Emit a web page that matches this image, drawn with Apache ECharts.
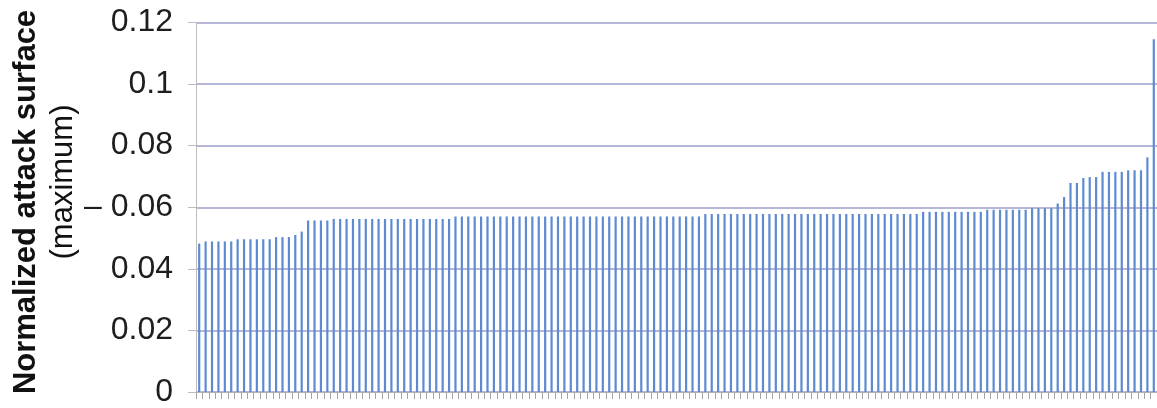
<!DOCTYPE html>
<html>
<head>
<meta charset="utf-8">
<script src="https://cdn.jsdelivr.net/npm/echarts@6/dist/echarts.min.js"></script>
<style>
  html, body { margin: 0; padding: 0; background: #ffffff; }
  #chart { width: 1157px; height: 408px; }
</style>
</head>
<body>
<div id="chart"></div>
<script>
// Normalized attack surface (maximum), one bar per configuration, sorted ascending
const categories = [];
for (let i = 1; i <= 150; i++) categories.push(String(i));

const attackSurface = [
  0.0482, 0.0489, 0.0489, 0.0489, 0.0489, 0.0489, 0.0496, 0.0496, 0.0496, 0.0496,
  0.0496, 0.0496, 0.0503, 0.0503, 0.0503, 0.0510, 0.0521, 0.0557, 0.0557, 0.0557,
  0.0557, 0.0562, 0.0562, 0.0562, 0.0562, 0.0562, 0.0562, 0.0562, 0.0562, 0.0562,
  0.0562, 0.0562, 0.0562, 0.0562, 0.0562, 0.0562, 0.0562, 0.0562, 0.0562, 0.0562,
  0.0570, 0.0570, 0.0570, 0.0570, 0.0570, 0.0570, 0.0570, 0.0570, 0.0570, 0.0570,
  0.0570, 0.0570, 0.0570, 0.0570, 0.0570, 0.0570, 0.0570, 0.0570, 0.0570, 0.0570,
  0.0570, 0.0570, 0.0570, 0.0570, 0.0570, 0.0570, 0.0570, 0.0570, 0.0570, 0.0570,
  0.0570, 0.0570, 0.0570, 0.0570, 0.0570, 0.0570, 0.0570, 0.0570, 0.0570, 0.0578,
  0.0578, 0.0578, 0.0578, 0.0578, 0.0578, 0.0578, 0.0578, 0.0578, 0.0578, 0.0578,
  0.0578, 0.0578, 0.0578, 0.0578, 0.0578, 0.0578, 0.0578, 0.0578, 0.0578, 0.0578,
  0.0578, 0.0578, 0.0578, 0.0578, 0.0578, 0.0578, 0.0578, 0.0578, 0.0578, 0.0578,
  0.0578, 0.0578, 0.0578, 0.0585, 0.0585, 0.0585, 0.0585, 0.0585, 0.0585, 0.0585,
  0.0585, 0.0585, 0.0585, 0.0592, 0.0592, 0.0592, 0.0592, 0.0592, 0.0592, 0.0592,
  0.0597, 0.0597, 0.0597, 0.0597, 0.0612, 0.0633, 0.0679, 0.0679, 0.0695, 0.0698,
  0.0698, 0.0715, 0.0715, 0.0715, 0.0715, 0.0720, 0.0720, 0.0720, 0.0762, 0.1146
];

const yTickLabels = ['0', '0.02', '0.04', '0.06', '0.08', '0.1', '0.12'];

const chart = echarts.init(document.getElementById('chart'), null, { renderer: 'canvas' });

chart.setOption({
  animation: false,
  backgroundColor: '#ffffff',
  grid: { left: 196, right: 0, top: 22.5, bottom: 11, containLabel: false },
  xAxis: {
    type: 'category',
    data: categories,
    boundaryGap: true,
    axisLine: { show: true, lineStyle: { color: '#b4b4b4', width: 1 } },
    axisTick: { show: true, interval: 0, length: 7, lineStyle: { color: '#a6a6a6', width: 1 } },
    axisLabel: { show: false },
    splitLine: { show: false }
  },
  yAxis: {
    type: 'value',
    min: 0,
    max: 0.12,
    interval: 0.02,
    axisLine: { show: true, lineStyle: { color: '#bdbdbd', width: 1 } },
    axisTick: { show: true, length: 8, lineStyle: { color: '#bdbdbd', width: 1 } },
    axisLabel: {
      margin: 23,
      fontFamily: 'Liberation Sans',
      fontSize: 32,
      color: '#1e1e1e',
      formatter: function (v) {
        const label = yTickLabels[Math.round(v / 0.02)];
        return label === '0.06' ? '\u2013 ' + label : label;
      }
    },
    splitLine: { show: true, lineStyle: { color: '#9e9ecb', width: 1.5 } }
  },
  series: [{
    type: 'bar',
    data: attackSurface,
    barWidth: 2.2,
    itemStyle: { color: '#5e8ad0' }
  }],
  graphic: [
    {
      type: 'text',
      x: 26,
      y: 202,
      rotation: Math.PI / 2,
      style: {
        text: 'Normalized attack surface',
        font: 'bold 31px "Liberation Sans"',
        fill: '#111111',
        textAlign: 'center',
        textVerticalAlign: 'middle'
      }
    },
    {
      type: 'text',
      x: 63,
      y: 182,
      rotation: Math.PI / 2,
      style: {
        text: '(maximum)',
        font: '31px "Liberation Sans"',
        fill: '#111111',
        textAlign: 'center',
        textVerticalAlign: 'middle'
      }
    }
  ]
});
</script>
</body>
</html>
